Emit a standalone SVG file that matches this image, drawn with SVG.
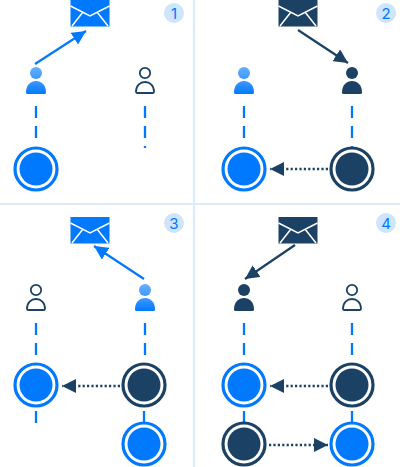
<svg xmlns="http://www.w3.org/2000/svg" width="400" height="467" viewBox="0 0 400 467">
<style>
.div{stroke:#dcecfd;stroke-width:2.2;fill:none}
.dash{stroke:#0079ff;stroke-width:2.3;stroke-dasharray:12 8;fill:none}
.solid{stroke:#0079ff;stroke-width:2.3;fill:none}
.badge{fill:#cfe4fd}
.num{font-family:"Inter","Liberation Sans",sans-serif;font-size:15px;fill:#0079ff;text-anchor:middle}
.sb{stroke:#0079ff;stroke-width:2.2;fill:none}
.sd{stroke:#1b4264;stroke-width:2.2;fill:none}
.dot{stroke:#1b4264;stroke-width:2.500;stroke-dasharray:2.200 2.200;fill:none}
</style>
<defs>
<linearGradient id="pg" x1="0" y1="0" x2="0" y2="1"><stop offset="0" stop-color="#66b0ff"/><stop offset="1" stop-color="#3e98ff"/></linearGradient>
<linearGradient id="pg2" x1="0" y1="0" x2="0" y2="1"><stop offset="0" stop-color="#3e98ff"/><stop offset="1" stop-color="#0079ff"/></linearGradient>
<marker id="ab" markerUnits="userSpaceOnUse" markerWidth="15" markerHeight="14" refX="14" refY="7" orient="auto"><path d="M0 0L14 7L0 14Z" fill="#0079ff"/></marker>
<marker id="ad" markerUnits="userSpaceOnUse" markerWidth="15" markerHeight="14" refX="14" refY="7" orient="auto"><path d="M0 0L14 7L0 14Z" fill="#1b4264"/></marker>
<g id="pb"><circle cx="0" cy="6" r="6" fill="url(#pg)"/><path d="M-10 25.500C-10 18 -5.500 14 0 14C5.500 14 10 18 10 25.500Q10 27 8.500 27H-8.500Q-10 27 -10 25.500Z" fill="url(#pg2)"/></g>
<g id="pd"><circle cx="0" cy="6" r="6" fill="#1b4264"/><path d="M-10 25.500C-10 18 -5.500 14 0 14C5.500 14 10 18 10 25.500Q10 27 8.500 27H-8.500Q-10 27 -10 25.500Z" fill="#1b4264"/></g>
<g id="po"><circle cx="0" cy="6" r="5.200" fill="none" stroke="#1b4264" stroke-width="1.800"/><path d="M-9 24.800C-9 18.500 -5 15 0 15C5 15 9 18.500 9 24.800Q9 26 8 26H-8Q-9 26 -9 24.800Z" fill="none" stroke="#1b4264" stroke-width="1.800"/></g>
<g id="eb"><rect x="-19.500" y="0" width="39" height="26.500" fill="#0079ff"/><path d="M-19.500 6L0 16L19.500 6M-18 26L-7 12M18 26L7 12" fill="none" stroke="#fff" stroke-width="1.500"/></g>
<g id="ed"><rect x="-19.500" y="0" width="39" height="26.500" fill="#1b4264"/><path d="M-19.500 6L0 16L19.500 6M-18 26L-7 12M18 26L7 12" fill="none" stroke="#fff" stroke-width="1.500"/></g>
<g id="cb"><circle r="21" fill="#fff" stroke="#0079ff" stroke-width="3.200"/><circle r="16.500" fill="#0079ff"/></g>
<g id="cd"><circle r="21" fill="#fff" stroke="#1b4264" stroke-width="3.200"/><circle r="16.500" fill="#1b4264"/></g>
</defs>
<g id="dividers">
<path class="div" d="M194 0V467M0 204H400"/>
</g>
<g id="connectors">
<path class="sb" d="M35 64L86 31" marker-end="url(#ab)"/>
<path class="dash" d="M36 106V139M145 106V148"/>
<path class="sd" d="M298 30L348 63" marker-end="url(#ad)"/>
<path class="dash" d="M244 106V139M352 106V148"/>
<path class="dot" d="M328 169H270" marker-end="url(#ad)"/>
<path class="sb" d="M144 279L94 246" marker-end="url(#ab)"/>
<path class="dash" d="M36 323V356M145 323V365"/>
<path class="dash" d="M36 411V423"/>
<path class="solid" d="M144 411V424"/>
<path class="dot" d="M120 386H62" marker-end="url(#ad)"/>
<path class="sd" d="M295 245L245 279" marker-end="url(#ad)"/>
<path class="dash" d="M244 323V356M352 323V365"/>
<path class="solid" d="M244 411V424M352 411V424"/>
<path class="dot" d="M328 386H270" marker-end="url(#ad)"/>
<path class="dot" d="M269 445H328" marker-end="url(#ad)"/>
</g>
<g id="panel1">
<g id="p1-mail"><use href="#eb" x="90" y="0"/></g>
<g id="p1-user-a"><use href="#pb" x="36" y="67"/></g>
<g id="p1-user-b"><use href="#po" x="145" y="67"/></g>
<g id="p1-node-a"><use href="#cb" x="36" y="169"/></g>
<g id="p1-badge"><circle class="badge" cx="174" cy="13" r="10"/><text class="num" x="174" y="18.500">1</text></g>
</g>
<g id="panel2">
<g id="p2-mail"><use href="#ed" x="298" y="0"/></g>
<g id="p2-user-a"><use href="#pb" x="244" y="67"/></g>
<g id="p2-user-b"><use href="#pd" x="352" y="67"/></g>
<g id="p2-node-a"><use href="#cb" x="244" y="169"/></g>
<g id="p2-node-b"><use href="#cd" x="352" y="169"/></g>
<g id="p2-badge"><circle class="badge" cx="386" cy="13" r="10"/><text class="num" x="386" y="18.500">2</text></g>
</g>
<g id="panel3">
<g id="p3-mail"><use href="#eb" x="90" y="217"/></g>
<g id="p3-user-a"><use href="#po" x="36" y="284"/></g>
<g id="p3-user-b"><use href="#pb" x="145" y="284"/></g>
<g id="p3-node-a"><use href="#cb" x="36" y="385"/></g>
<g id="p3-node-b"><use href="#cd" x="144" y="385"/></g>
<g id="p3-node-c"><use href="#cb" x="144" y="444"/></g>
<g id="p3-badge"><circle class="badge" cx="174" cy="223" r="10"/><text class="num" x="174" y="228.500">3</text></g>
</g>
<g id="panel4">
<g id="p4-mail"><use href="#ed" x="298" y="217"/></g>
<g id="p4-user-a"><use href="#pd" x="244" y="284"/></g>
<g id="p4-user-b"><use href="#po" x="352" y="284"/></g>
<g id="p4-node-a"><use href="#cb" x="244" y="385"/></g>
<g id="p4-node-b"><use href="#cd" x="352" y="385"/></g>
<g id="p4-node-c"><use href="#cd" x="244" y="444"/></g>
<g id="p4-node-d"><use href="#cb" x="352" y="444"/></g>
<g id="p4-badge"><circle class="badge" cx="386" cy="223" r="10"/><text class="num" x="386" y="228.500">4</text></g>
</g>
</svg>
